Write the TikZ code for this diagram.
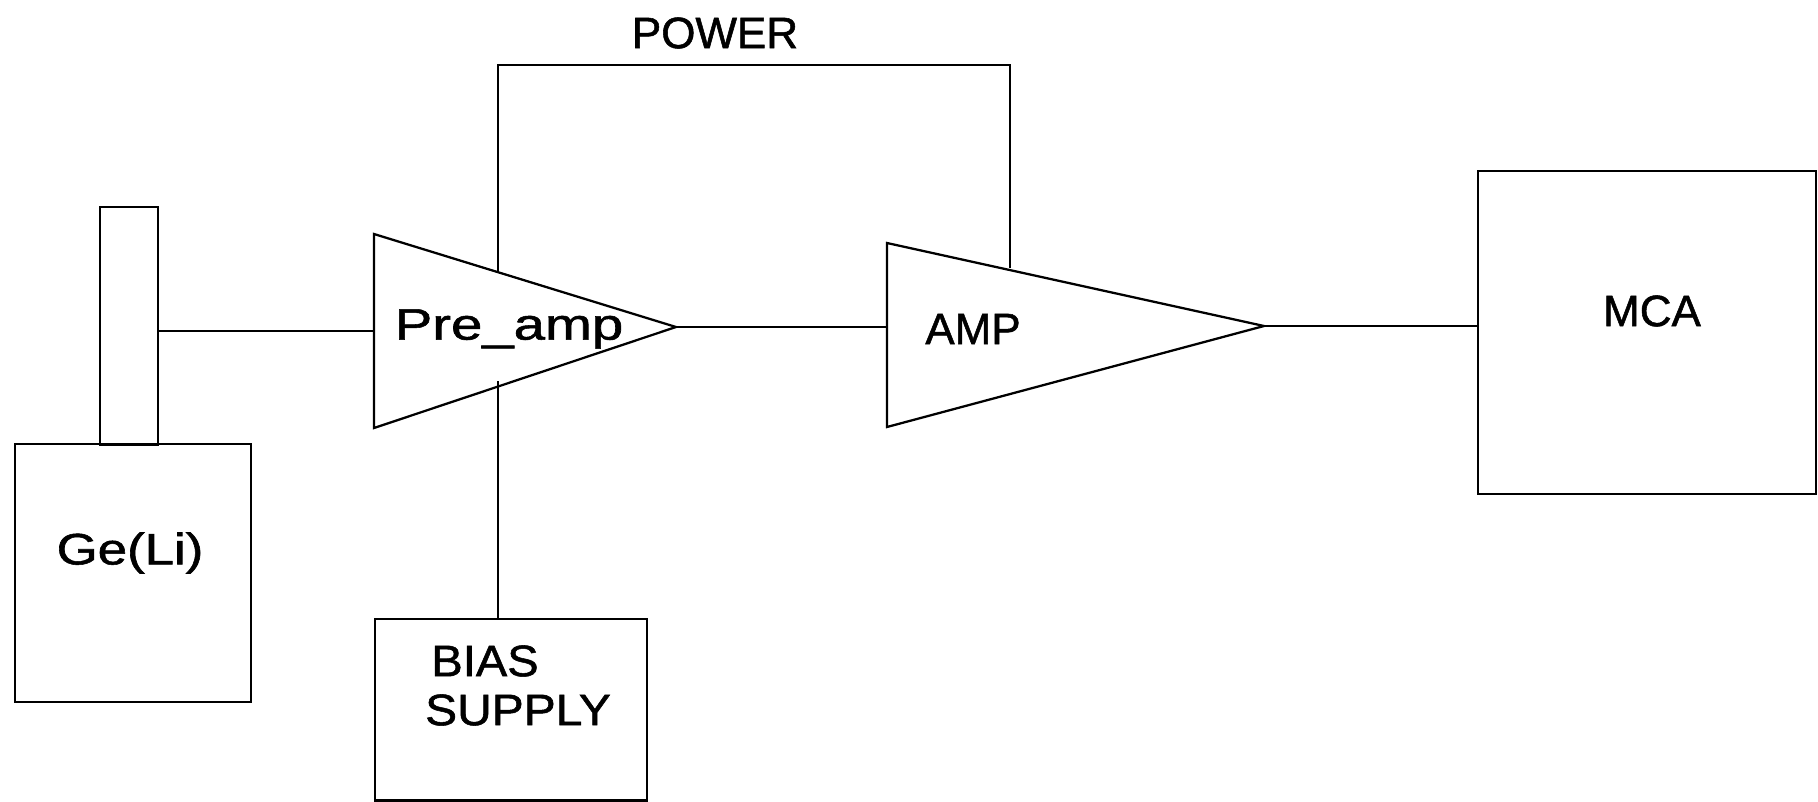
\documentclass[tikz,border=0pt]{standalone}
\usepackage{fontspec}
\setmainfont[RawFeature={embolden=1.2}]{Liberation Sans}
\usetikzlibrary{positioning}

\tikzset{
  unitbox/.style={draw,line width=1.7pt,inner sep=0pt,anchor=north west},
  amptri/.style={line width=1.7pt,line join=miter},
  wire/.style={line width=1.7pt},
  lbl/.style={inner sep=0pt,font=\fontsize{33}{38}\selectfont,align=left}
}

\begin{document}
\begin{tikzpicture}[x=0.75pt,y=0.75pt,yscale=-1,xscale=1]
\useasboundingbox (0,0) rectangle (1818,801);

%Ge(Li) detector
\node [unitbox,minimum width=177pt,minimum height=193.5pt] (gebox) at (14,443) {};
\node [unitbox,minimum width=43.5pt,minimum height=178.5pt] (stem) at (99,206) {};
\node [lbl] (gelbl) at (130,553) {\scalebox{1.2}[1]{Ge(Li)}};

%Pre_amp
\coordinate (pretop) at (374,234);
\coordinate (prebot) at (374,428);
\coordinate (preout) at (676,327);
\draw [amptri] (pretop) -- (preout) -- (prebot) -- cycle;
\node [lbl] (prelbl) at (509,329) {\scalebox{1.28}[1]{Pre\_amp}};

%AMP
\coordinate (amptop) at (887,243);
\coordinate (ampbot) at (887,427);
\coordinate (ampout) at (1264,326);
\draw [amptri] (amptop) -- (ampout) -- (ampbot) -- cycle;
\node [lbl] (amplbl) at (973,329) {AMP};

%MCA
\node [unitbox,minimum width=253.5pt,minimum height=242pt] (mca) at (1477,170) {};
\node [lbl] (mcalbl) at (1652,311) {MCA};

%Bias supply
\node [unitbox,minimum width=204pt,minimum height=136pt] (bias) at (374,618) {};
\node [lbl] (biaslbl1) at (485,661) {\scalebox{1.07}[1]{BIAS}};
\node [lbl] (biaslbl2) at (518,710) {\scalebox{1.09}[1]{SUPPLY}};

%Power
\node [lbl] (powerlbl) at (715,33) {POWER};
\coordinate (pwrleft) at (498,272);
\coordinate (pwrtopl) at (498,65);
\coordinate (pwrtopr) at (1010,65);
\coordinate (pwrright) at (1010,268);
\draw [wire] (pwrleft) -- (pwrtopl) -- (pwrtopr) -- (pwrright);

%Signal lines
\coordinate (stemout) at (157,331);
\coordinate (prein) at (374,331);
\coordinate (ampin) at (887,327);
\coordinate (mcain) at (1477,326);
\coordinate (biasin) at (498,381);
\coordinate (biasout) at (498,618);
\draw [wire] (stemout) -- (prein);
\draw [wire] (preout) -- (ampin);
\draw [wire] (ampout) -- (mcain);
\draw [wire] (biasin) -- (biasout);
\end{tikzpicture}
\end{document}
